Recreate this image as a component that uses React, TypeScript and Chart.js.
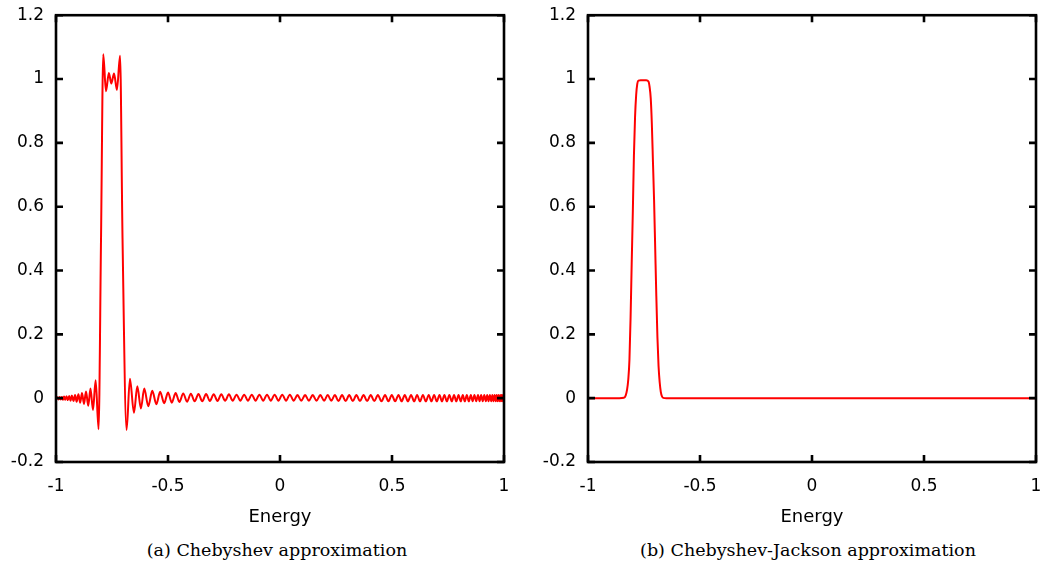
import React, { useEffect, useRef } from "react";
import { Chart, registerables } from "chart.js";
Chart.register(...registerables);

// ---- axis ticks & texts ----
const xTicks = [-1, -0.5, 0, 0.5, 1];
const xTickLabels = ["-1", "-0.5", "0", "0.5", "1"];
const yTicks = [-0.2, 0, 0.2, 0.4, 0.6, 0.8, 1, 1.2];
const yTickLabels = ["-0.2", "0", "0.2", "0.4", "0.6", "0.8", "1", "1.2"];
const xTitle = "Energy";
const captionA = "(a) Chebyshev approximation";
const captionB = "(b) Chebyshev-Jackson approximation";

// ---- series (a): Chebyshev approximation, [energy, value] ----
const chebyshevLeft: [number, number][] = [
  [-1.0, 0.0], [-0.994, 0.003], [-0.989, -0.004], [-0.984, 0.004], [-0.979, -0.004],
  [-0.974, 0.004], [-0.969, -0.005], [-0.964, 0.005], [-0.959, -0.005], [-0.953, 0.006],
  [-0.947, -0.006], [-0.941, 0.007], [-0.935, -0.008], [-0.929, 0.008], [-0.922, -0.009],
  [-0.915, 0.01], [-0.908, -0.011], [-0.9, 0.012], [-0.892, -0.014], [-0.884, 0.016],
  [-0.875, -0.018], [-0.866, 0.021], [-0.856, -0.024], [-0.846, 0.03], [-0.835, -0.037],
  [-0.823, 0.056], [-0.81, -0.097],
];
const chebyshevWindow: [number, number][] = [
  [-0.799, 0.5], [-0.789, 1.078], [-0.777, 0.962], [-0.764, 1.019], [-0.753, 0.986],
  [-0.741, 1.017], [-0.728, 0.966], [-0.714, 1.073], [-0.703, 0.5], [-0.685, -0.1],
];
const chebyshevRight: [number, number][] = [
  [-0.67, 0.061], [-0.652, -0.046], [-0.637, 0.037], [-0.621, -0.032], [-0.606, 0.03],
  [-0.588, -0.025], [-0.57, 0.023], [-0.552, -0.019], [-0.535, 0.02], [-0.517, -0.016],
  [-0.5, 0.018], [-0.483, -0.014], [-0.466, 0.016], [-0.449, -0.012], [-0.432, 0.015],
  [-0.415, -0.011], [-0.398, 0.014], [-0.381, -0.01], [-0.364, 0.013], [-0.347, -0.01],
  [-0.33, 0.013], [-0.313, -0.009], [-0.296, 0.012], [-0.279, -0.009], [-0.262, 0.012],
  [-0.245, -0.008], [-0.228, 0.012], [-0.211, -0.008], [-0.194, 0.011], [-0.177, -0.008],
  [-0.16, 0.011], [-0.143, -0.008], [-0.126, 0.011], [-0.109, -0.008], [-0.092, 0.011],
  [-0.075, -0.008], [-0.058, 0.011], [-0.041, -0.008], [-0.024, 0.011], [-0.007, -0.008],
  [0.01, 0.011], [0.027, -0.008], [0.044, 0.011], [0.061, -0.008], [0.078, 0.01],
  [0.095, -0.008], [0.112, 0.01], [0.129, -0.008], [0.146, 0.01], [0.163, -0.008],
  [0.18, 0.01], [0.197, -0.008], [0.213, 0.01], [0.229, -0.008], [0.245, 0.01],
  [0.261, -0.009], [0.277, 0.01], [0.293, -0.009], [0.309, 0.01], [0.325, -0.009],
  [0.341, 0.01], [0.357, -0.009], [0.373, 0.01], [0.389, -0.009], [0.405, 0.01],
  [0.421, -0.009], [0.437, 0.01], [0.453, -0.01], [0.469, 0.01], [0.484, -0.01],
  [0.499, 0.01], [0.514, -0.01], [0.529, 0.01], [0.543, -0.01], [0.557, 0.01],
  [0.571, -0.01], [0.585, 0.01], [0.599, -0.01], [0.612, 0.01], [0.625, -0.01],
  [0.638, 0.01], [0.651, -0.01], [0.664, 0.01], [0.676, -0.01], [0.688, 0.01],
  [0.7, -0.01], [0.712, 0.01], [0.723, -0.01], [0.734, 0.01], [0.745, -0.01],
  [0.756, 0.01], [0.767, -0.01], [0.777, 0.01], [0.787, -0.01], [0.797, 0.01],
  [0.807, -0.01], [0.816, 0.01], [0.825, -0.01], [0.834, 0.01], [0.843, -0.01],
  [0.852, 0.01], [0.86, -0.01], [0.868, 0.01], [0.876, -0.01], [0.884, 0.01],
  [0.891, -0.01], [0.898, 0.01], [0.905, -0.01], [0.912, 0.01], [0.919, -0.01],
  [0.925, 0.01], [0.931, -0.01], [0.937, 0.01], [0.943, -0.01], [0.948, 0.01],
  [0.953, -0.01], [0.958, 0.01], [0.963, -0.01], [0.967, 0.01], [0.971, -0.01],
  [0.975, 0.01], [0.979, -0.01], [0.983, 0.01], [0.986, -0.01], [0.989, 0.01],
  [0.992, -0.01], [0.995, 0.01], [0.998, -0.008], [1.0, 0.0],
];

// ---- series (b): Chebyshev-Jackson approximation ----
const jackson: [number, number][] = [
  [-1.0, 0.0], [-0.95, 0.0], [-0.9, 0.0], [-0.86, 0.0], [-0.84, 0.001],
  [-0.832, 0.008], [-0.826, 0.025], [-0.82, 0.06], [-0.815, 0.12], [-0.81, 0.25],
  [-0.805, 0.42], [-0.8, 0.58], [-0.795, 0.76], [-0.79, 0.88], [-0.785, 0.95],
  [-0.78, 0.985], [-0.775, 0.995], [-0.765, 0.996], [-0.752, 0.996], [-0.74, 0.996],
  [-0.73, 0.992], [-0.725, 0.975], [-0.72, 0.94], [-0.715, 0.86], [-0.71, 0.74],
  [-0.705, 0.62], [-0.7, 0.47], [-0.695, 0.32], [-0.69, 0.19], [-0.685, 0.1],
  [-0.68, 0.05], [-0.675, 0.02], [-0.67, 0.006], [-0.664, 0.001], [-0.65, 0.0],
  [-0.5, 0.0], [0.0, 0.0], [0.5, 0.0], [1.0, 0.0],
];

const chebyshev = [...chebyshevLeft, ...chebyshevWindow, ...chebyshevRight];

const TOP = -7;
const H = 537;
const AREA_BOTTOM = 469; // relative to canvas
const tickFont = { family: "DejaVu Sans", size: 17 };

const framePlugin = {
  id: "gnuplotFrame",
  afterDatasetsDraw(chart: any) {
    const { ctx, chartArea: a, scales } = chart;
    const L = 7;
    ctx.save();
    ctx.strokeStyle = "#000";
    ctx.lineWidth = 2.6;
    ctx.beginPath();
    for (const v of yTicks) {
      const p = scales.y.getPixelForValue(v);
      ctx.moveTo(a.left, p);
      ctx.lineTo(a.left + L, p);
      ctx.moveTo(a.right, p);
      ctx.lineTo(a.right - L, p);
    }
    for (const v of xTicks) {
      const p = scales.x.getPixelForValue(v);
      ctx.moveTo(p, a.bottom);
      ctx.lineTo(p, a.bottom - L);
      ctx.moveTo(p, a.top);
      ctx.lineTo(p, a.top + L);
    }
    ctx.stroke();
    ctx.strokeRect(a.left, a.top, a.right - a.left, a.bottom - a.top);
    ctx.restore();
  },
};

type PanelProps = {
  left: number;
  width: number;
  axisW: number;
  padRight: number;
  points: [number, number][];
  caption: string;
  capCenter: number;
};

function Panel({ left, width, axisW, padRight, points, caption, capCenter }: PanelProps) {
  const ref = useRef<HTMLCanvasElement>(null);
  useEffect(() => {
    const chart = new Chart(ref.current as HTMLCanvasElement, {
      type: "line",
      data: {
        datasets: [
          {
            data: points.map(([x, y]) => ({ x, y })),
            borderColor: "#ff0000",
            borderWidth: 2,
            pointRadius: 0,
            fill: false,
            cubicInterpolationMode: "monotone",
          },
        ],
      },
      options: {
        animation: false,
        responsive: false,
        devicePixelRatio: 1,
        layout: { padding: { left: 0, top: 14, right: padRight, bottom: 0 } },
        plugins: { legend: { display: false }, tooltip: { enabled: false } },
        scales: {
          x: {
            type: "linear",
            min: -1,
            max: 1,
            grid: { display: false, drawTicks: false },
            border: { display: false },
            afterBuildTicks: (s: any) => {
              s.ticks = xTicks.map((v) => ({ value: v }));
            },
            afterFit: (s: any) => {
              s.height = H - AREA_BOTTOM;
            },
            ticks: {
              autoSkip: false,
              maxRotation: 0,
              padding: 14,
              color: "#000",
              font: tickFont,
              callback: (v: any) => xTickLabels[xTicks.indexOf(Number(v))],
            },
            title: {
              display: true,
              text: xTitle,
              color: "#000",
              font: { family: "DejaVu Sans", size: 18 },
              padding: { top: 0, bottom: 2 },
            },
          },
          y: {
            type: "linear",
            min: -0.2,
            max: 1.2,
            grid: { display: false, drawTicks: false },
            border: { display: false },
            afterBuildTicks: (s: any) => {
              s.ticks = yTicks.map((v) => ({ value: v }));
            },
            afterFit: (s: any) => {
              s.width = axisW;
            },
            ticks: {
              autoSkip: false,
              padding: 12,
              color: "#000",
              font: tickFont,
              callback: (v: any) => yTickLabels[yTicks.indexOf(Number(v))],
            },
          },
        },
      },
      plugins: [framePlugin],
    } as any);
    return () => chart.destroy();
  }, []);
  return (
    <>
      <canvas
        ref={ref}
        width={width}
        height={H}
        style={{ position: "absolute", left, top: TOP, width, height: H }}
      />
      <div
        style={{
          position: "absolute",
          left: capCenter - 260,
          width: 520,
          top: 540,
          lineHeight: "20px",
          textAlign: "center",
          fontFamily: "'DejaVu Serif', serif",
          fontSize: 17.5,
          color: "#000",
          whiteSpace: "nowrap",
        }}
      >
        {caption}
      </div>
    </>
  );
}

export default function App() {
  return (
    <div
      style={{
        position: "absolute",
        left: 0,
        top: 0,
        width: 1041,
        height: 564,
        background: "#fff",
        overflow: "hidden",
      }}
    >
      <Panel left={0} width={525} axisW={56} padRight={21} points={chebyshev} caption={captionA} capCenter={277} />
      <Panel left={530} width={527} axisW={58} padRight={21} points={jackson} caption={captionB} capCenter={808} />
    </div>
  );
}
